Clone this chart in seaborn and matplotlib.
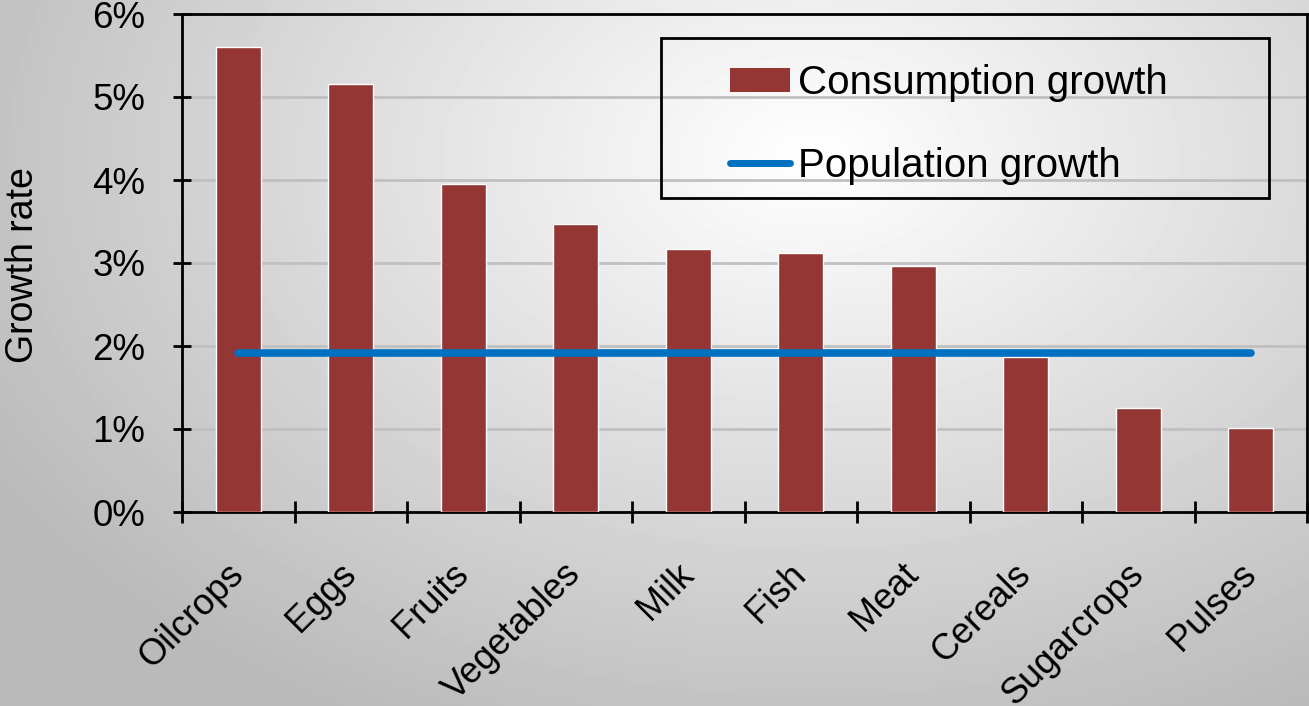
import numpy as np
import pandas as pd
import matplotlib
matplotlib.use("Agg")
import matplotlib.pyplot as plt
from matplotlib.patches import Rectangle, Patch
from matplotlib.lines import Line2D
import matplotlib.ticker as mticker
import seaborn as sns

categories = ["Oilcrops", "Eggs", "Fruits", "Vegetables", "Milk", "Fish",
              "Meat", "Cereals", "Sugarcrops", "Pulses"]
consumption_growth = [5.60, 5.16, 3.95, 3.47, 3.17, 3.12, 2.96, 1.87, 1.25, 1.01]
population_growth = [1.92, 1.92, 1.92, 1.92, 1.92, 1.92, 1.92, 1.92, 1.92, 1.92]
y_ticks = [0, 1, 2, 3, 4, 5, 6]

BAR = "#943634"
BLUE = "#0070C0"

sns.set_theme(style="white")
plt.rcParams["font.family"] = ["Liberation Sans", "DejaVu Sans"]
plt.rcParams["text.color"] = "black"
plt.rcParams["axes.labelcolor"] = "black"
plt.rcParams["xtick.color"] = "black"
plt.rcParams["ytick.color"] = "black"

fig = plt.figure(figsize=(13.09, 7.06), dpi=100)

# background gradient
bg = fig.add_axes([0, 0, 1, 1], zorder=-10)
yy, xx = np.mgrid[0:1:200j, 0:1:400j]
d = np.sqrt(((xx - 0.62) / 0.72) ** 2 + ((yy - 0.22) / 0.9) ** 2)
bg.imshow(1 - 0.27 * np.clip(d, 0, 1), cmap="gray", vmin=0, vmax=1,
          aspect="auto", extent=[0, 1, 0, 1], interpolation="bilinear")
bg.axis("off")

ax = fig.add_axes([182 / 1309, 1 - 512 / 706, 1125 / 1309, 498 / 706])
ax.set_facecolor("none")

df = pd.DataFrame({"category": categories, "growth": consumption_growth})
sns.barplot(data=df, x="category", y="growth", color=BAR, saturation=1,
            width=0.4, ax=ax, zorder=3)
sns.lineplot(x=np.arange(len(categories)), y=population_growth, ax=ax,
             color=BLUE, linewidth=5.5, zorder=4, solid_capstyle="round")

ax.set_xlim(-0.5, len(categories) - 0.5)
ax.set_ylim(0, 6)
ax.set_yticks(y_ticks)
ax.yaxis.set_major_formatter(mticker.FuncFormatter(lambda v, p: f"{v:.0f}%"))
ax.grid(axis="y", color="#c0c0c0", linewidth=2, zorder=0)
ax.set_axisbelow(True)

for s in ax.spines.values():
    s.set_visible(True)
    s.set_color("black")
    s.set_linewidth(2)

ax.tick_params(axis="y", direction="inout", length=13, width=2, color="black",
               labelsize=26.5, pad=20, left=True, labelcolor="black")
ax.set_xticks(np.arange(-0.5, len(categories) - 0.4, 1), minor=True)
ax.tick_params(axis="x", which="minor", direction="inout", length=16, width=2,
               color="black", bottom=True)
ax.tick_params(axis="x", which="major", length=0, labelsize=26, pad=41,
               labelcolor="black")
for lbl in ax.get_xticklabels():
    lbl.set_rotation(45)
    lbl.set_ha("right")
    lbl.set_va("center")
    lbl.set_rotation_mode("anchor")

ax.set_xlabel("")
ax.set_ylabel("Growth rate", fontsize=27, color="black")
ax.yaxis.set_label_coords(-0.125, 0.496)

# legend frame
ax.add_patch(Rectangle((0.426, 0.631), 0.54, 0.321, transform=ax.transAxes,
                       fill=False, edgecolor="black", linewidth=2, zorder=6))
handles = [Patch(facecolor=BAR, edgecolor="none"),
           Line2D([0], [0], color=BLUE, linewidth=5, solid_capstyle="round")]
leg = ax.legend(handles, ["Consumption growth", "Population growth"],
                loc="upper left", bbox_to_anchor=(0.487, 0.899), frameon=False,
                fontsize=29, borderpad=0, borderaxespad=0, handlelength=1.5,
                handleheight=0.55, handletextpad=0.2, labelspacing=1.1)
for t in leg.get_texts():
    t.set_color("black")

fig.savefig("out.png", dpi=100)
